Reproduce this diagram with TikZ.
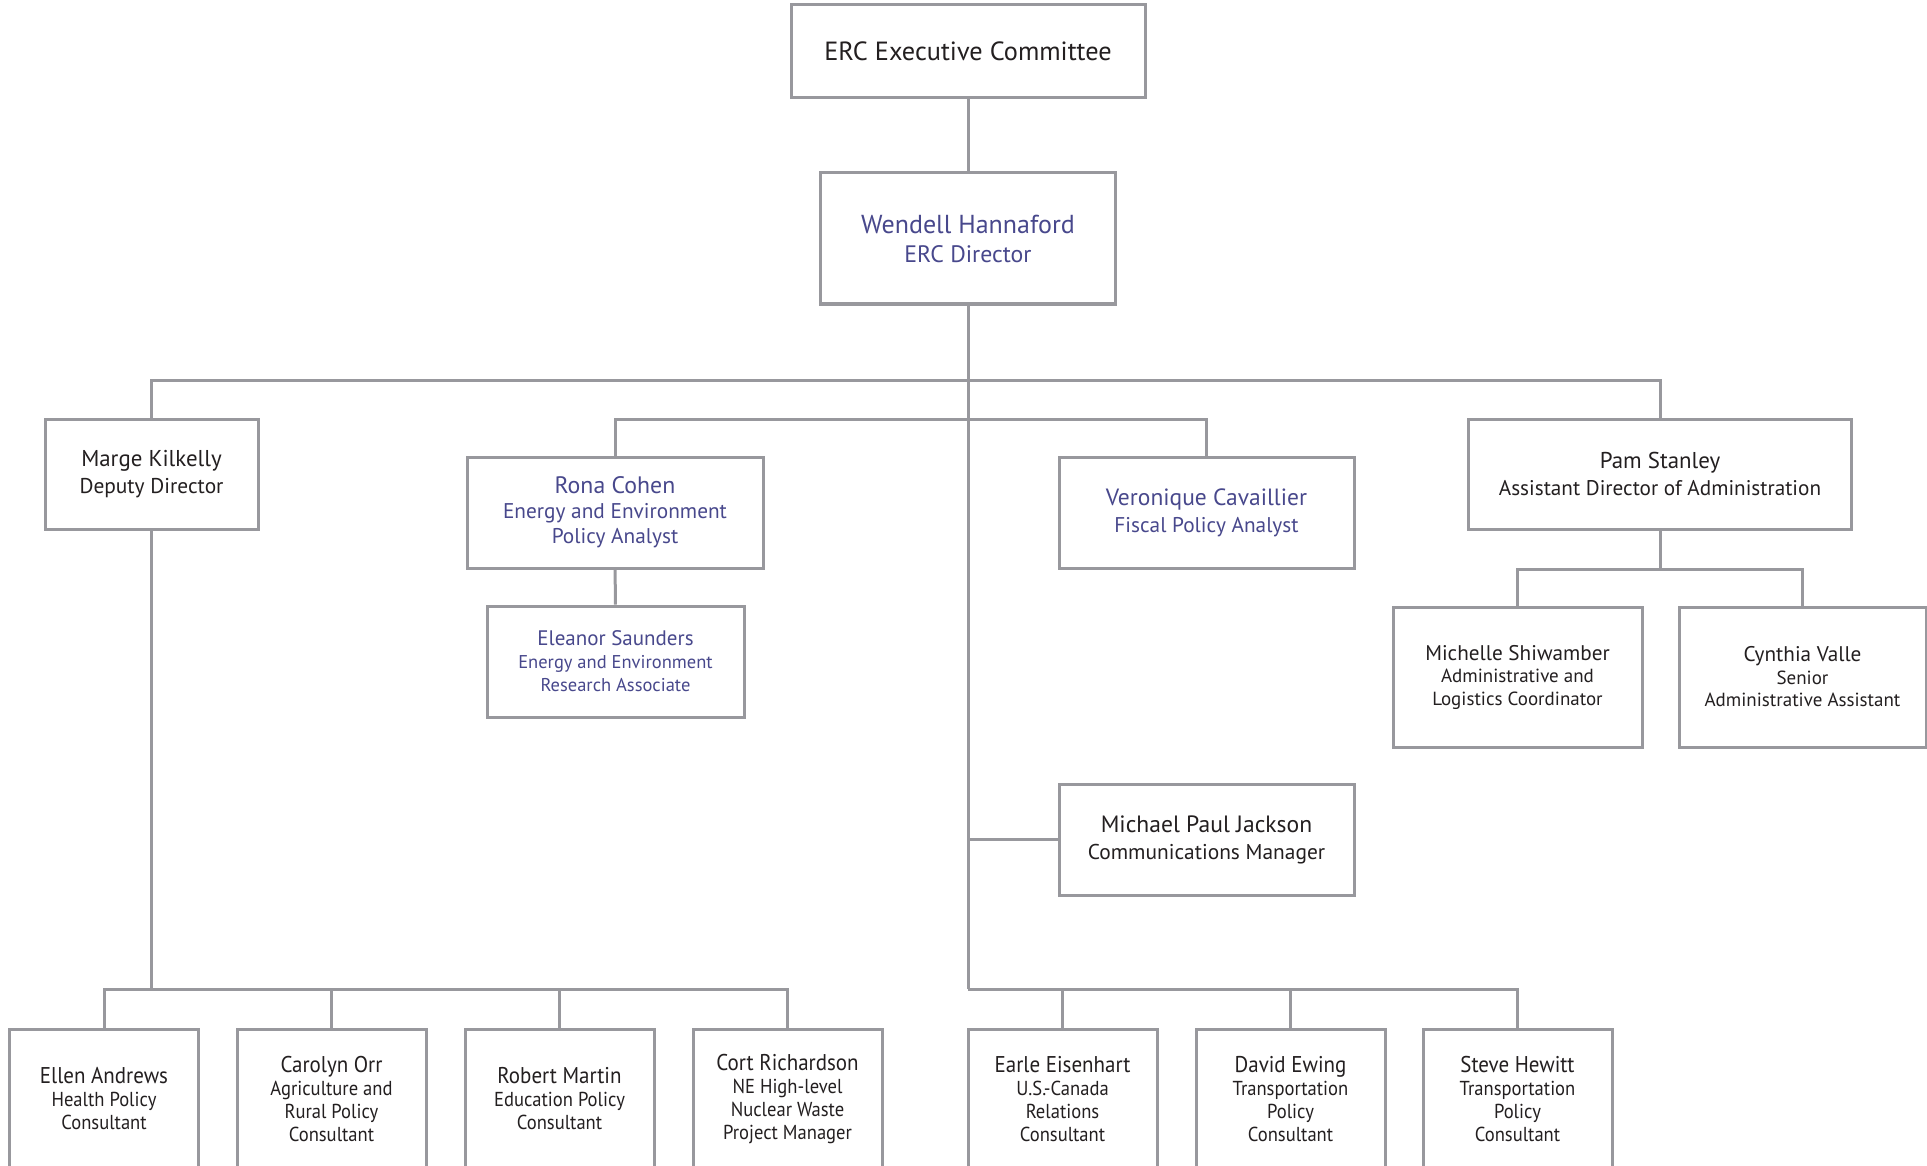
\documentclass[tikz,border=0pt]{standalone}
\usepackage{fontspec}
\setmainfont{PT Sans}
\newfontfamily\condfont[FakeStretch=0.92]{PT Sans}
\usepackage{tikz}

\definecolor{linegray}{RGB}{152,152,157}
\definecolor{bluetext}{RGB}{72,72,140}
\definecolor{darktext}{RGB}{35,31,32}

\newcommand{\fs}[2]{\fontsize{#1}{#2}\selectfont}

\tikzset{
  unit/.style={draw=linegray, line width=3pt, fill=white, align=center, inner sep=0pt, text=darktext},
  blueunit/.style={unit, text=bluetext},
  link/.style={draw=linegray, line width=3pt},
  lowunit/.style={unit, minimum width=189pt, minimum height=140pt, font=\condfont\fs{20.2}{23}},
}

\begin{document}
\begin{tikzpicture}[x=1pt, y=-1pt]
        \useasboundingbox (0,0) rectangle (1927,1166);
        \clip (0,0) rectangle (1927,1166);
        % top of the chart
        \node[unit, minimum width=354pt, minimum height=93pt, font=\fs{26.3}{30}] (erc) at (968,51.5) {ERC Executive Committee};
        \node[blueunit, minimum width=295pt, minimum height=131pt, font=\fs{23.8}{29}] (dir) at (968,238.5) {{\fs{26}{29}Wendell Hannaford}\\ERC Director};
        % second level
        \node[unit, minimum width=213pt, minimum height=110pt, font=\fs{21.4}{27}] (marge) at (151.5,474) {{\fs{22.9}{27}Marge Kilkelly}\\Deputy Director};
        \node[blueunit, minimum width=296pt, minimum height=111pt, font=\fs{21.3}{25}] (rona) at (615,512.5) {{\fs{23.8}{25}Rona Cohen}\\Energy and Environment\\Policy Analyst};
        \node[blueunit, minimum width=257pt, minimum height=111pt, font=\fs{18.5}{23}] (eleanor) at (615.5,661.5) {{\fs{21}{23}Eleanor Saunders}\\Energy and Environment\\Research Associate};
        \node[blueunit, minimum width=295pt, minimum height=111pt, font=\fs{21.3}{27}] (vero) at (1206.5,512.5) {{\fs{23.5}{27}Veronique Cavaillier}\\Fiscal Policy Analyst};
        \node[unit, minimum width=383pt, minimum height=110pt, font=\fs{21.2}{27}] (pam) at (1660,474) {{\fs{22.9}{27}Pam Stanley}\\Assistant Director of Administration};
        \node[unit, minimum width=249pt, minimum height=140pt, font=\fs{19}{22.5}] (michelle) at (1517.5,677) {{\fs{21.2}{22.5}Michelle Shiwamber}\\Administrative and\\Logistics Coordinator};
        \node[unit, minimum width=247pt, minimum height=140pt, font=\fs{19}{22.5}] (cynthia) at (1802.5,677) {{\fs{21.2}{22.5}Cynthia Valle}\\Senior\\Administrative Assistant};
        \node[unit, minimum width=295pt, minimum height=111pt, font=\fs{21.4}{27}] (comms) at (1206.5,839.5) {{\fs{23.6}{27}Michael Paul Jackson}\\Communications Manager};
        % bottom row
        \node[lowunit] (ellen) at (104,1099) {{\fs{22.8}{23}Ellen Andrews}\\Health Policy\\Consultant};
        \node[lowunit] (carolyn) at (331.5,1099) {{\fs{22.8}{23}Carolyn Orr}\\Agriculture and\\Rural Policy\\Consultant};
        \node[lowunit] (robert) at (559.5,1099) {{\fs{22.8}{23}Robert Martin}\\Education Policy\\Consultant};
        \node[lowunit] (cort) at (787.5,1099) {{\fs{22.8}{23}Cort Richardson}\\NE High-level\\Nuclear Waste\\Project Manager};
        \node[lowunit] (earle) at (1062.5,1099) {{\fs{22.8}{23}Earle Eisenhart}\\U.S.-Canada\\Relations\\Consultant};
        \node[lowunit] (david) at (1290.5,1099) {{\fs{22.8}{23}David Ewing}\\Transportation\\Policy\\Consultant};
        \node[lowunit] (steve) at (1517.5,1099) {{\fs{22.8}{23}Steve Hewitt}\\Transportation\\Policy\\Consultant};
        % bus lines
        \coordinate (topbus) at (968,380);
        \coordinate (midbus) at (968,419);
        \coordinate (pambus) at (1660,569);
        \coordinate (lowbus) at (968,989);
        \draw[link] (erc) -- (dir);
        \draw[link] (dir.south) -- (lowbus);
        \draw[link] (marge.north) -- (marge.north |- topbus) -| (pam.north);
        \draw[link] (rona.north) -- (rona.north |- midbus) -| (vero.north);
        \draw[link] (rona) -- (eleanor);
        \draw[link] (pam.south) -- (pambus);
        \draw[link] (michelle.north) -- (michelle.north |- pambus) -| (cynthia.north);
        \draw[link] (comms.west) -- (comms.west -| dir.south);
        \draw[link] (marge.south) -- (marge.south |- lowbus);
        \draw[link] (ellen.north) -- (ellen.north |- lowbus) -| (cort.north);
        \draw[link] (carolyn.north) -- (carolyn.north |- lowbus);
        \draw[link] (robert.north) -- (robert.north |- lowbus);
        \draw[link] (lowbus) -| (earle.north);
        \draw[link] (earle.north |- lowbus) -| (steve.north);
        \draw[link] (david.north) -- (david.north |- lowbus);
\end{tikzpicture}
\end{document}
